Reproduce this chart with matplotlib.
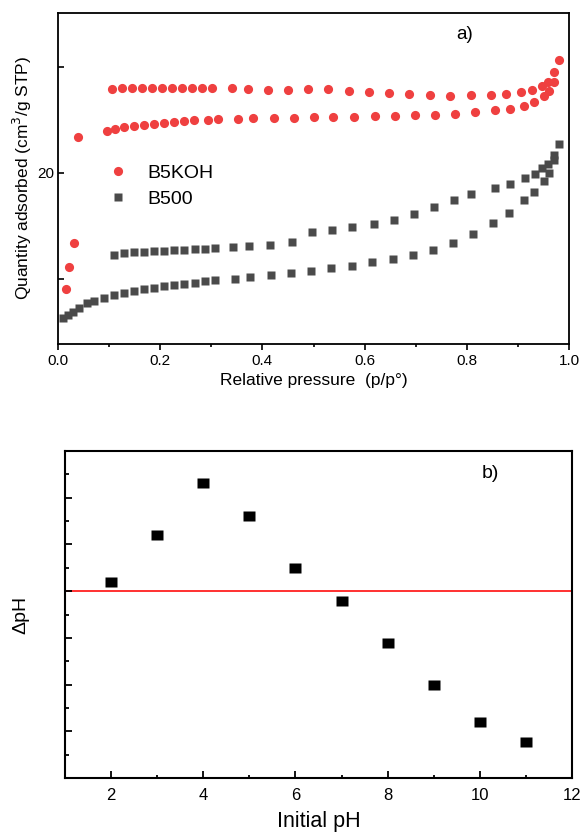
import matplotlib
matplotlib.use("Agg")
import matplotlib.pyplot as plt
from matplotlib.ticker import MultipleLocator, FixedLocator, FixedFormatter
from matplotlib.path import Path

plt.rcParams['font.family'] = ['Liberation Sans', 'DejaVu Sans']

# ---------------- Panel a) isotherm data ----------------
b5koh_ads_x = [0.016, 0.022, 0.031, 0.039, 0.096, 0.112, 0.129, 0.149, 0.169, 0.188, 0.208, 0.227,
               0.247, 0.267, 0.294, 0.314, 0.353, 0.382, 0.422, 0.461, 0.500, 0.539, 0.580,
               0.620, 0.659, 0.698, 0.737, 0.776, 0.816, 0.855, 0.884, 0.912, 0.931, 0.951,
               0.961, 0.971, 0.980]
b5koh_ads_y = [14.53, 15.57, 16.70, 21.70, 21.98, 22.08, 22.17, 22.22, 22.26, 22.31, 22.36, 22.41,
               22.45, 22.50, 22.50, 22.55, 22.55, 22.59, 22.59, 22.59, 22.64, 22.64, 22.64,
               22.69, 22.69, 22.74, 22.74, 22.78, 22.88, 22.97, 23.02, 23.16, 23.35, 23.63,
               23.87, 24.29, 25.33]
b5koh_des_x = [0.106, 0.125, 0.145, 0.165, 0.184, 0.204, 0.224, 0.243, 0.263, 0.282, 0.302,
               0.341, 0.371, 0.410, 0.451, 0.490, 0.529, 0.569, 0.608, 0.647, 0.686, 0.727,
               0.767, 0.808, 0.847, 0.876, 0.906, 0.927, 0.947, 0.959, 0.971]
b5koh_des_y = [23.96, 24.01, 24.01, 24.01, 24.01, 24.01, 24.01, 24.01, 24.01, 24.01, 24.01,
               24.01, 23.96, 23.92, 23.89, 23.96, 23.96, 23.87, 23.82, 23.77, 23.73, 23.68,
               23.63, 23.66, 23.66, 23.73, 23.82, 23.92, 24.10, 24.29, 24.76]

b500_ads_x = [0.010, 0.020, 0.029, 0.041, 0.057, 0.071, 0.090, 0.110, 0.129, 0.149, 0.169, 0.188,
              0.208, 0.227, 0.247, 0.269, 0.288, 0.308, 0.347, 0.376, 0.416, 0.455, 0.496,
              0.535, 0.575, 0.614, 0.655, 0.694, 0.733, 0.773, 0.812, 0.851, 0.882, 0.912,
              0.931, 0.951, 0.961, 0.971, 0.980]
b500_ads_y = [13.16, 13.30, 13.44, 13.63, 13.87, 13.96, 14.10, 14.25, 14.34, 14.43, 14.53, 14.58,
              14.67, 14.72, 14.76, 14.81, 14.91, 14.95, 15.00, 15.09, 15.19, 15.28, 15.38,
              15.52, 15.61, 15.80, 15.94, 16.13, 16.37, 16.70, 17.12, 17.64, 18.11, 18.73,
              19.08, 19.62, 20.00, 20.61, 21.37]
b500_des_x = [0.110, 0.129, 0.149, 0.169, 0.188, 0.208, 0.227, 0.247, 0.269, 0.288, 0.308,
              0.343, 0.373, 0.414, 0.457, 0.498, 0.537, 0.576, 0.618, 0.657, 0.696, 0.735,
              0.775, 0.808, 0.855, 0.884, 0.914, 0.933, 0.947, 0.959, 0.971]
b500_des_y = [16.13, 16.23, 16.27, 16.27, 16.32, 16.32, 16.37, 16.37, 16.42, 16.42, 16.46,
              16.51, 16.56, 16.60, 16.72, 17.22, 17.31, 17.45, 17.59, 17.78, 18.07, 18.40,
              18.73, 18.99, 19.29, 19.50, 19.76, 19.95, 20.24, 20.42, 20.85]

series_labels = ["B5KOH", "B500"]
y_ticks_a = [15, 20, 25]
y_ticklabels_a = ["", "20", ""]

# ---------------- Panel b) pH drift data ----------------
initial_ph = [2, 3, 4, 5, 6, 7, 8, 9, 10, 11]
delta_ph = [0.10, 0.60, 1.16, 0.80, 0.25, -0.10, -0.55, -1.00, -1.40, -1.61]
zero_line = 0.0

RED = "#ef4040"
GREY = "#4a4a4a"

fig = plt.figure(figsize=(5.83, 8.32), dpi=100)

# ---- Panel a ----
ax1 = fig.add_axes([0.0995, 0.5865, 0.8765, 0.398])
ax1.plot(b5koh_ads_x, b5koh_ads_y, 'o', color=RED, ms=6.6, mec='none', label=series_labels[0])
ax1.plot(b5koh_des_x, b5koh_des_y, 'o', color=RED, ms=6.6, mec='none')
ax1.plot(b500_ads_x, b500_ads_y, 's', color=GREY, ms=5.8, mec='none', label=series_labels[1])
ax1.plot(b500_des_x, b500_des_y, 's', color=GREY, ms=5.8, mec='none')
ax1.set_xlim(0, 1.0)
ax1.set_ylim(11.93, 27.55)
ax1.xaxis.set_major_locator(MultipleLocator(0.2))
ax1.xaxis.set_minor_locator(MultipleLocator(0.1))
ax1.yaxis.set_major_locator(FixedLocator(y_ticks_a))
ax1.yaxis.set_major_formatter(FixedFormatter(y_ticklabels_a))
ax1.tick_params(axis='x', which='major', direction='out', length=4, width=1.2, labelsize=11, pad=3)
ax1.tick_params(axis='x', which='minor', direction='out', length=2.5, width=1.2)
ax1.tick_params(axis='y', which='major', direction='in', length=4.5, width=1.2, labelsize=11, pad=3)
for s in ax1.spines.values():
    s.set_linewidth(1.3)
ax1.set_xlabel("Relative pressure  (p/p°)", fontsize=12.5, labelpad=4)
ax1.set_ylabel("Quantity adsorbed (cm$^3$/g STP)", fontsize=12.5, labelpad=2)
ax1.text(0.795, 0.935, "a)", transform=ax1.transAxes, fontsize=13.5, ha='center', va='center')
leg = ax1.legend(loc='upper left', bbox_to_anchor=(0.065, 0.595), frameon=False, fontsize=14,
                 handletextpad=1.0, handlelength=1.0, labelspacing=0.42, markerscale=1.0)

# ---- Panel b ----
ax2 = fig.add_axes([0.1115, 0.0649, 0.8695, 0.393])
rect = Path([(-1.2, -1), (1.2, -1), (1.2, 1), (-1.2, 1), (-1.2, -1)],
            [Path.MOVETO, Path.LINETO, Path.LINETO, Path.LINETO, Path.CLOSEPOLY])
ax2.axhline(zero_line, color="#ff3030", lw=1.4, zorder=1)
ax2.plot(initial_ph, delta_ph, linestyle='none', marker=rect, color='black', ms=9, mec='none', zorder=3)
ax2.set_xlim(1, 12)
ax2.set_ylim(-2.0, 1.5)
ax2.xaxis.set_major_locator(MultipleLocator(2))
ax2.xaxis.set_minor_locator(MultipleLocator(1))
ax2.yaxis.set_major_locator(MultipleLocator(0.5))
ax2.yaxis.set_minor_locator(MultipleLocator(0.25))
ax2.tick_params(axis='x', which='major', direction='in', length=5, width=1.3, labelsize=12, pad=7)
ax2.tick_params(axis='x', which='minor', direction='in', length=2.5, width=1.3)
ax2.tick_params(axis='y', which='major', direction='in', length=5, width=1.3, labelleft=False)
ax2.tick_params(axis='y', which='minor', direction='in', length=3, width=1.3)
for s in ax2.spines.values():
    s.set_linewidth(1.5)
ax2.set_xlabel("Initial pH", fontsize=15.5, labelpad=6)
ax2.set_ylabel("ΔpH", fontsize=14, labelpad=22)
ax2.text(0.84, 0.93, "b)", transform=ax2.transAxes, fontsize=14, ha='center', va='center')

fig.savefig("out.png", dpi=100)
